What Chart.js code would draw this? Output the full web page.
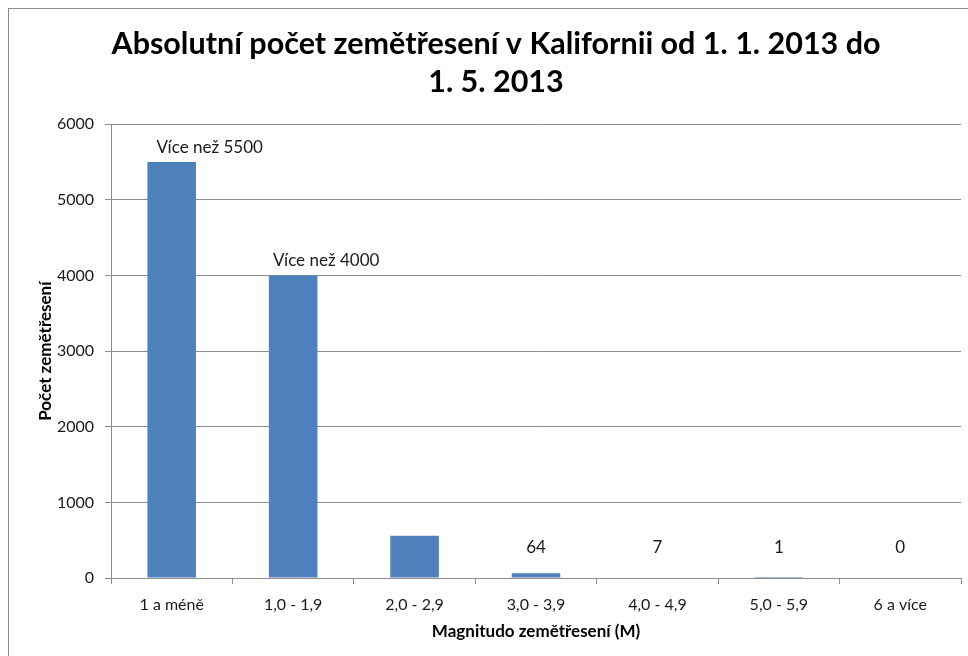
<!DOCTYPE html>
<html><head><meta charset="utf-8">
<script src="https://cdn.jsdelivr.net/npm/chart.js@4.4.1/dist/chart.umd.min.js"></script>
<style>
html,body{margin:0;padding:0;background:#fff;overflow:hidden;width:968px;height:656px;}
#box{position:absolute;left:8px;top:8px;width:984px;height:700px;border:1px solid #8c8c8c;background:#fff;}
#c{display:block;}
</style></head><body>
<div id="box"><canvas id="c" width="984" height="660"></canvas></div>
<script>
const categories = ['1 a méně', '1,0 - 1,9', '2,0 - 2,9', '3,0 - 3,9', '4,0 - 4,9', '5,0 - 5,9', '6 a více'];
const counts = [5500, 4000, 560, 64, 7, 1, 0];
const barLabels = ['Více než 5500', 'Více než 4000', '', '64', '7', '1', '0'];
const yMin = 0, yMax = 6000, yStep = 1000;
const titleLines = ['Absolutní počet zemětřesení v Kalifornii od 1. 1. 2013 do', '1. 5. 2013'];
const xTitle = 'Magnitudo zemětřesení (M)';
const yTitle = 'Počet zemětřesení';

const FONT = 'Lato, "Noto Sans", sans-serif';
const labelShiftX = [38, 33, 0, 0, 0, 0, 0];

const labelPlugin = {
  id: 'barLabels',
  afterDatasetsDraw(chart) {
    const ctx = chart.ctx;
    const meta = chart.getDatasetMeta(0);
    const ys = chart.scales.y;
    const zeroY = ys.getPixelForValue(0);
    ctx.save();
    ctx.font = '17px ' + FONT;
    ctx.fillStyle = '#1a1a1a';
    ctx.textAlign = 'center';
    ctx.textBaseline = 'middle';
    meta.data.forEach((bar, i) => {
      const t = barLabels[i];
      if (!t) return;
      const y = Math.min(bar.y - 15, zeroY - 30);
      ctx.fillText(t, bar.x + labelShiftX[i], y);
    });
    ctx.restore();
  }
};

new Chart(document.getElementById('c'), {
  type: 'bar',
  data: {
    labels: categories,
    datasets: [{ data: counts, backgroundColor: '#4f81bd', borderWidth: 0,
      categoryPercentage: 1.0, barPercentage: 0.4 }]
  },
  options: {
    responsive: false,
    animation: false,
    events: [],
    layout: { padding: { left: 22, right: 32, top: 0, bottom: 27 } },
    plugins: {
      legend: { display: false },
      tooltip: { enabled: false },
      title: {
        display: true,
        text: titleLines,
        color: '#000',
        font: { family: FONT, size: 30.5, weight: 'bold', lineHeight: 1.25 },
        padding: { top: 16, bottom: 23 }
      }
    },
    scales: {
      x: {
        afterFit: s => { s.height = 64; },
        grid: { display: true, drawOnChartArea: false, drawTicks: true, tickLength: 6, color: '#8c8c8c', offset: true },
        border: { display: true, color: '#8c8c8c', width: 1 },
        ticks: { color: '#1a1a1a', font: { family: FONT, size: 16 }, padding: 11, maxRotation: 0, autoSkip: false },
        title: { display: true, text: xTitle, color: '#000', font: { family: FONT, size: 17, weight: 'bold' }, padding: { top: 0, bottom: 0 } }
      },
      y: {
        min: yMin, max: yMax,
        afterFit: s => { s.width = 80; },
        grid: { color: '#8c8c8c', drawTicks: true, tickLength: 6 },
        border: { display: true, color: '#8c8c8c', width: 1 },
        ticks: { stepSize: yStep, color: '#1a1a1a', font: { family: FONT, size: 16 }, padding: 11,
          callback: v => String(v) },
        title: { display: true, text: yTitle, color: '#000', font: { family: FONT, size: 17, weight: 'bold' }, padding: { top: 4, bottom: 0 } }
      }
    }
  },
  plugins: [labelPlugin]
});
</script>
</body></html>
